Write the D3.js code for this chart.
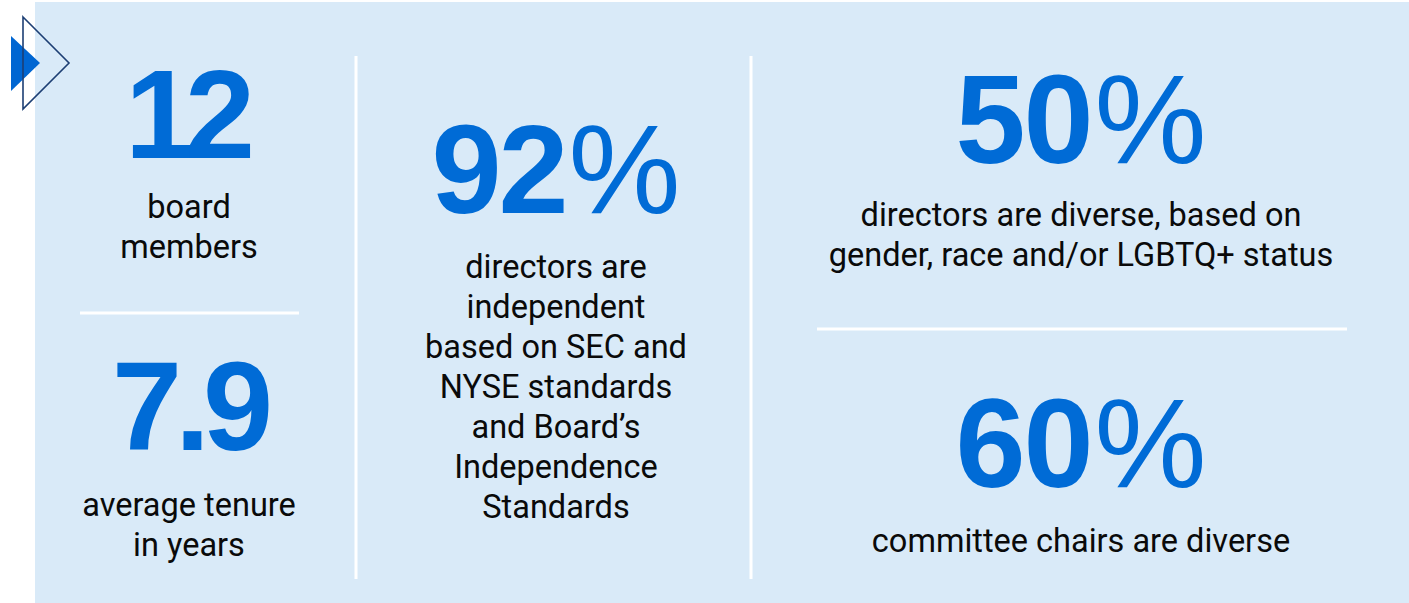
<!DOCTYPE html>
<html>
<head>
<meta charset="utf-8">
<style>
  html, body { margin: 0; padding: 0; background: #fff; }
  svg { display: block; }
</style>
</head>
<body>
<svg width="1409" height="603"></svg>
<script src="https://cdn.jsdelivr.net/npm/d3@7"></script>
<script>
// headline figures and captions
var figures = ["12", "7.9", "92", "50", "60"];
var units = ["", "", "%", "%", "%"];
var captions = [
  ["board", "members"],
  ["average tenure", "in years"],
  ["directors are", "independent", "based on SEC and", "NYSE standards", "and Board\u2019s", "Independence", "Standards"],
  ["directors are diverse, based on", "gender, race and/or LGBTQ+ status"],
  ["committee chairs are diverse"]
];
var columns = ["left", "left", "middle", "right", "right"];

var svg = d3.select("svg");
var blue = "#006bd6";
var numFont = "'Liberation Sans', Arial, sans-serif";
var txtFont = "Roboto, 'Noto Sans', sans-serif";

// panel
svg.append("rect")
  .attr("x", 35).attr("y", 2)
  .attr("width", 1374).attr("height", 601)
  .attr("fill", "#d9eaf8");

// arrow icon
svg.append("path")
  .attr("d", "M11,36 L40,63 L11,91 Z")
  .attr("fill", "#0066d2");
svg.append("path")
  .attr("d", "M23,17 L69,63 L23,109 Z")
  .attr("fill", "none")
  .attr("stroke", "#1d3f74")
  .attr("stroke-width", 1.6);

// column centres
var colX = d3.scaleOrdinal().domain(["left", "middle", "right"]).range([189, 556, 1081]);

// where each block sits: baseline of the figure, baseline of first caption line
var figBase = [158, 450, 213, 163, 487];
var capBase = [218, 516, 278, 226, 552];
var figTrack = [-10, -7, -3, -2, -2];
var figShift = [-4, 0, 0, 0, 0];
var lineGap = 40;

// dividers
var dividers = [
  {x1: 356, y1: 56, x2: 356, y2: 579},
  {x1: 751, y1: 56, x2: 751, y2: 579},
  {x1: 80, y1: 313, x2: 299, y2: 313},
  {x1: 817, y1: 329, x2: 1347, y2: 329}
];
svg.selectAll("line.div")
  .data(dividers)
  .enter()
  .append("line")
  .attr("class", "div")
  .attr("x1", function(d) { return d.x1; })
  .attr("y1", function(d) { return d.y1; })
  .attr("x2", function(d) { return d.x2; })
  .attr("y2", function(d) { return d.y2; })
  .attr("stroke", "#ffffff")
  .attr("stroke-width", 3);

var blocks = svg.selectAll("g.stat")
  .data(figures)
  .enter()
  .append("g")
  .attr("class", "stat");

// big numbers
var big = blocks.append("text")
  .attr("x", function(d, i) { return colX(columns[i]) + figShift[i]; })
  .attr("y", function(d, i) { return figBase[i]; })
  .attr("text-anchor", "middle")
  .attr("fill", blue)
  .style("font-family", numFont)
  .style("font-size", "126px");
big.append("tspan")
  .style("font-weight", 700)
  .style("letter-spacing", function(d, i) { return figTrack[i] + "px"; })
  .text(function(d) { return d; });
big.append("tspan")
  .style("font-weight", 400)
  .attr("dx", 3)
  .text(function(d, i) { return units[i]; });

// captions
blocks.each(function(d, i) {
  d3.select(this).selectAll("text.cap")
    .data(captions[i])
    .enter()
    .append("text")
    .attr("class", "cap")
    .attr("x", colX(columns[i]))
    .attr("y", function(t, j) { return capBase[i] + j * lineGap; })
    .attr("text-anchor", "middle")
    .attr("fill", "#0a0a0a")
    .style("font-family", txtFont)
    .style("font-size", "32.5px")
    .text(function(t) { return t; });
});
</script>
</body>
</html>
